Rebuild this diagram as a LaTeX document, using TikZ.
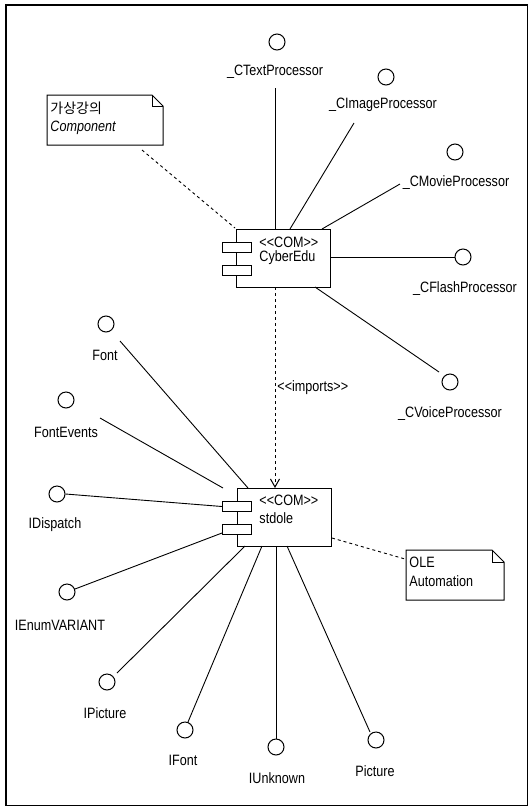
\documentclass[tikz,border=0pt]{standalone}
\usepackage{fontspec}
\setmainfont{Liberation Sans}[FakeStretch=0.84]
\newfontfamily\krfont{Noto Sans CJK KR}
\usetikzlibrary{arrows.meta}
\begin{document}
\begin{tikzpicture}[x=1pt,y=-1pt,line width=0.9pt,
  iface/.style={circle,draw,minimum size=16,inner sep=0pt,line width=1pt},
  lbl/.style={inner sep=0pt,font=\fontsize{15}{17}\selectfont},
  txt/.style={inner sep=0pt,anchor=west,font=\fontsize{15}{17}\selectfont},
  compbox/.style={draw,line width=1pt},
  part/.style={draw,fill=white,line width=1pt},
  notedash/.style={dashed,dash pattern=on 3pt off 3pt,line width=0.9pt},
  notebox/.style={line width=1pt}]
\useasboundingbox (0,0) rectangle (529,807);
\draw[line width=1.3pt] (6,5) rectangle (527.5,805.5);

% ---------- CyberEdu component ----------
\coordinate (cyNW) at (236,229);
\coordinate (cySE) at (330,287);
\draw[compbox] (cyNW) rectangle (cySE);
\node[part,minimum width=29,minimum height=10,inner sep=0] (cyp1) at (236.5,247) {};
\node[part,minimum width=29,minimum height=10,inner sep=0] (cyp2) at (236.5,270) {};
\node[txt] (cyS) at (259,242) {<{}<COM>{}>};
\node[txt] (cyN) at (259,258) {CyberEdu};

% interfaces of CyberEdu
\node[iface] (ctext) at (277,42) {};
\node[lbl] (ctextL) at (275,72) {\_CTextProcessor};
\coordinate (ctextA) at (275,88);
\coordinate (ctextB) at (275,229);
\draw (ctextA) -- (ctextB);

\node[iface] (cimage) at (386,77) {};
\node[lbl] (cimageL) at (383,105) {\_CImageProcessor};
\coordinate (cimageA) at (354,123);
\coordinate (cimageB) at (290,229);
\draw (cimageA) -- (cimageB);

\node[iface] (cmovie) at (455,152) {};
\node[lbl] (cmovieL) at (456,183) {\_CMovieProcessor};
\coordinate (cmovieA) at (400,184);
\coordinate (cmovieB) at (322,229);
\draw (cmovieA) -- (cmovieB);

\node[iface] (cflash) at (463,257) {};
\node[lbl] (cflashL) at (465,289) {\_CFlashProcessor};
\coordinate (cflashB) at (330,257);
\draw (cflashB) -- (cflash.west);

\node[iface] (cvoice) at (450,382) {};
\node[lbl] (cvoiceL) at (450,414) {\_CVoiceProcessor};
\coordinate (cvoiceA) at (439,372);
\coordinate (cvoiceB) at (315,287);
\draw (cvoiceB) -- (cvoiceA);

% note 1
\draw[notebox] (47,95) -- (152,95) -- (163,106) -- (163,145) -- (47,145) -- cycle;
\draw[notebox] (152,95) -- (152,106) -- (163,106);
\node[txt] (n1a) at (50,108) {\krfont\fontsize{14}{16}\selectfont 가상강의};
\node[txt] (n1b) at (50,128) {\itshape Component};
\coordinate (n1A) at (142,150);
\coordinate (n1B) at (235,228);
\draw[notedash] (n1A) -- (n1B);

% imports dependency
\coordinate (impA) at (275,287);
\coordinate (impB) at (275,488);
\draw[notedash,-{Straight Barb[length=8pt,width=9pt,line width=1pt]}] (impA) -- (impB);
\node[txt] (impL) at (277,388) {<{}<imports>{}>};

% ---------- stdole component ----------
\coordinate (stNW) at (237,488);
\coordinate (stSE) at (331,546);
\draw[compbox] (stNW) rectangle (stSE);
\node[part,minimum width=29,minimum height=10,inner sep=0] (stp1) at (237,506.5) {};
\node[part,minimum width=29,minimum height=10,inner sep=0] (stp2) at (237,529.5) {};
\node[txt] (stS) at (259,500) {<{}<COM>{}>};
\node[txt] (stN) at (259,518) {stdole};

\node[iface] (font) at (106,324) {};
\node[lbl] (fontL) at (105,355) {Font};
\coordinate (fontA) at (120,341);
\coordinate (fontB) at (248,488);
\draw (fontA) -- (fontB);

\node[iface] (fontev) at (66,400) {};
\node[lbl] (fontevL) at (66,432) {FontEvents};
\coordinate (fontevA) at (100,418);
\coordinate (fontevB) at (223,488);
\draw (fontevA) -- (fontevB);

\node[iface] (idisp) at (57,494) {};
\node[lbl] (idispL) at (55,525) {IDispatch};
\draw (idisp.east) -- (stp1.west);

\node[iface] (ienum) at (67,592) {};
\node[lbl] (ienumL) at (60,625) {IEnumVARIANT};
\coordinate (ienumA) at (75,589);
\coordinate (ienumB) at (222,533);
\draw (ienumA) -- (ienumB);

\node[iface] (ipict) at (107,682) {};
\node[lbl] (ipictL) at (105,713) {IPicture};
\coordinate (ipictA) at (117,673);
\coordinate (ipictB) at (245,546);
\draw (ipictA) -- (ipictB);

\node[iface] (ifont) at (185,730) {};
\node[lbl] (ifontL) at (183,760) {IFont};
\coordinate (ifontA) at (188,722);
\coordinate (ifontB) at (262,546);
\draw (ifontA) -- (ifontB);

\node[iface] (iunk) at (276,747) {};
\node[lbl] (iunkL) at (277,778) {IUnknown};
\coordinate (iunkB) at (276,546);
\draw (iunkB) -- (iunk.north);

\node[iface] (pict) at (376,740) {};
\node[lbl] (pictL) at (375,771) {Picture};
\coordinate (pictA) at (370,732);
\coordinate (pictB) at (287,546);
\draw (pictB) -- (pictA);

% note 2
\draw[notebox] (406,550) -- (492,550) -- (504,562) -- (504,600) -- (406,600) -- cycle;
\draw[notebox] (492,550) -- (492,562) -- (504,562);
\node[txt] (n2a) at (409,562) {OLE};
\node[txt] (n2b) at (409,581) {Automation};
\coordinate (n2A) at (332,538);
\coordinate (n2B) at (405,559);
\draw[notedash] (n2A) -- (n2B);
\end{tikzpicture}
\end{document}
